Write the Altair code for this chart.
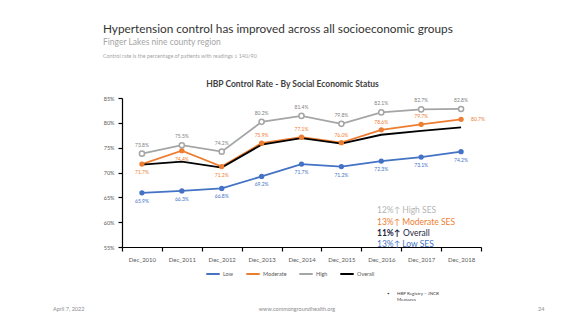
import altair as alt
import pandas as pd

years = ["Dec_2010", "Dec_2011", "Dec_2012", "Dec_2013", "Dec_2014",
         "Dec_2015", "Dec_2016", "Dec_2017", "Dec_2018"]
low = [65.9, 66.3, 66.8, 69.2, 71.7, 71.2, 72.3, 73.1, 74.2]
moderate = [71.7, 74.4, 71.2, 75.9, 77.1, 76.0, 78.6, 79.7, 80.7]
high = [73.8, 75.5, 74.2, 80.2, 81.4, 79.8, 82.1, 82.7, 82.8]
overall = [71.6, 72.2, 71.0, 75.6, 76.9, 75.8, 77.6, 78.4, 79.1]
series_names = ["Low", "Moderate", "High", "Overall"]
series_colors = ["#4472C4", "#ED7D31", "#A5A5A5", "#000000"]
y_ticks = [55, 60, 65, 70, 75, 80, 85]

FONT = "Lato"

rows = []
for name, vals in zip(series_names, [low, moderate, high, overall]):
    for i, (yr, v) in enumerate(zip(years, vals)):
        rows.append({"series": name, "year": yr, "value": v, "idx": i})
df = pd.DataFrame(rows)

color = alt.Color("series:N", scale=alt.Scale(domain=series_names, range=series_colors),
                  legend=alt.Legend(title=None, orient="none", legendX=83, legendY=168,
                                    direction="horizontal", symbolType="stroke",
                                    symbolStrokeWidth=2, symbolSize=180,
                                    labelFont=FONT, labelFontSize=5.5, labelColor="#595959",
                                    columnPadding=8, labelOffset=2))

x = alt.X("year:N", sort=years,
          scale=alt.Scale(type="band", paddingInner=0, paddingOuter=0),
          bandPosition=0.5,
          axis=alt.Axis(title=None, labelAngle=0, tickBand="extent", domainColor="#000000",
                        tickColor="#000000", tickSize=4, domainWidth=1.2, tickWidth=1.2,
                        labelFont=FONT, labelFontSize=6, labelColor="#595959",
                        labelPadding=5, grid=False))
y = alt.Y("value:Q", scale=alt.Scale(domain=[55, 85], nice=False, zero=False),
          axis=alt.Axis(title=None, values=y_ticks, labelExpr="datum.value + '%'",
                        domainColor="#000000", tickColor="#000000", tickSize=4,
                        domainWidth=1.2, tickWidth=1.2, grid=False,
                        labelFont=FONT, labelFontSize=5.5, labelColor="#595959",
                        labelPadding=4))

base = alt.Chart(df).encode(x=x, y=y)

lines = base.mark_line(strokeWidth=1.8).encode(color=color)

pts_filled = base.transform_filter(
    alt.FieldOneOfPredicate(field="series", oneOf=["Low", "Moderate"])
).mark_point(filled=True, size=28, opacity=1).encode(
    color=alt.Color("series:N", scale=alt.Scale(domain=series_names, range=series_colors), legend=None))

pts_high = base.transform_filter(alt.datum.series == "High").mark_point(
    filled=True, size=26, fill="#FFFFFF", stroke="#A5A5A5", strokeWidth=1.5, opacity=1)

lab = base.transform_calculate(label="format(datum.value, '.1f') + '%'")

def labels(series, cond, dx, dy, col):
    return lab.transform_filter(alt.datum.series == series).transform_filter(cond).mark_text(
        font=FONT, fontSize=5, color=col, dx=dx, dy=dy).encode(text="label:N")

lab_high = labels("High", "true", 0, -9, "#7F7F7F")
lab_low = labels("Low", "true", 0, 8, "#4472C4")
lab_mod_below = labels("Moderate", "datum.idx <= 2", 0, 8, "#ED7D31")
lab_mod_above = labels("Moderate", "datum.idx >= 3 && datum.idx <= 7", 0, -8, "#ED7D31")
lab_mod_right = labels("Moderate", "datum.idx == 8", 17, 0, "#ED7D31")


def txt(s, xp, yp, size, col, weight="normal", align="left"):
    return alt.Chart(pd.DataFrame({"t": [s]})).mark_text(
        font=FONT, fontSize=size, color=col, fontWeight=weight, align=align,
        baseline="middle").encode(text="t:N", x=alt.value(xp), y=alt.value(yp))

texts = [
    txt("Hypertension control has improved across all socioeconomic groups", -19, -69, 11.8, "#333333"),
    txt("Finger Lakes nine county region", -19, -56, 8.5, "#A6A6A6"),
    txt("Control rate is the percentage of patients with readings \u2264 140/90", -19, -42, 5.4, "#A6A6A6"),
    txt("HBP Control Rate - By Social Economic Status", 170.5, -14, 8.5, "#404040", "bold", "center"),
    txt("12%\u2191 High SES", 255, 112, 8.5, "#B4B4B4"),
    txt("13%\u2191 Moderate SES", 255, 123.5, 8.5, "#ED7D31"),
    txt("11%\u2191", 255, 134.5, 8.5, "#1F1F3F", "bold"),
    txt("Overall", 281, 134.5, 8.5, "#1F1F3F"),
    txt("13%\u2191 Low SES", 255, 145.5, 8.5, "#4472C4"),
    txt("April 7, 2022", -69, 211, 5.5, "#8C8C8C"),
    txt("www.commongroundhealth.org", 175, 211, 5.5, "#8C8C8C", align="center"),
    txt("24", 416, 211, 5.5, "#8C8C8C"),
    txt("\u2022", 265, 196, 4.5, "#404040"),
    txt("HBP Registry \u2013 JNCB", 275, 196, 4.5, "#404040"),
    txt("Measures", 275, 202, 4.5, "#404040"),
]

chart = alt.layer(lines, pts_filled, pts_high, lab_high, lab_low, lab_mod_below,
                  lab_mod_above, lab_mod_right, *texts).properties(
    width=359, height=149,
    autosize=alt.AutoSizeParams(type="none"),
    padding={"left": 122, "top": 98, "right": 95, "bottom": 76},
    background="#FFFFFF",
).configure_view(stroke=None)

chart.save("out.html", embed_options={"renderer": "svg", "actions": False})
